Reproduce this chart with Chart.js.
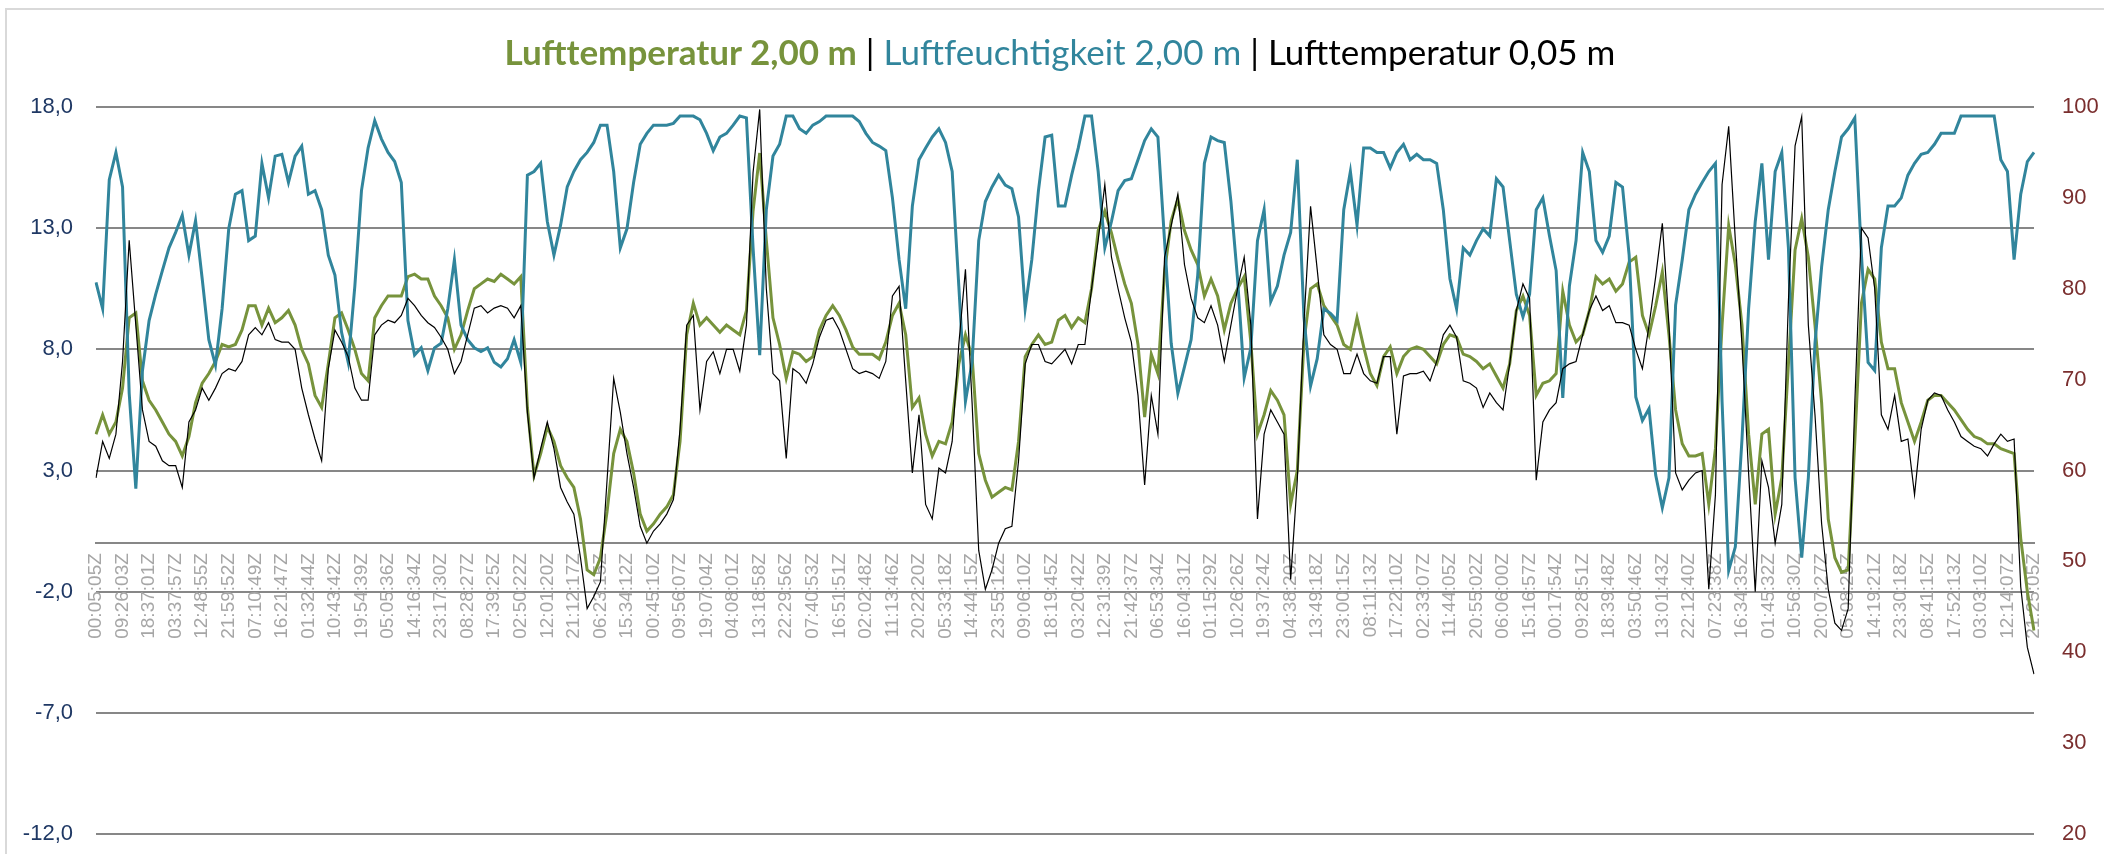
<!DOCTYPE html>
<html>
<head>
<meta charset="utf-8">
<script src="https://cdn.jsdelivr.net/npm/chart.js@4.4.1/dist/chart.umd.min.js"></script>
<style>
  html, body { margin: 0; padding: 0; background: #fff; overflow: hidden; }
  #wrap { position: relative; width: 2104px; height: 854px; }
  #frame { position: absolute; left: 5px; top: 8px; width: 2200px; height: 900px; border: 2px solid #d9d9d9; box-sizing: border-box; }
  #chart { position: absolute; left: 0; top: 0; }
  #title { position: absolute; left: 0; top: 30px; width: 2120px; text-align: center;
           font-family: Lato, sans-serif; font-size: 35px; line-height: 42px; white-space: nowrap; color: #000; }
</style>
</head>
<body>
<div id="wrap">
  <div id="frame"></div>
  <canvas id="chart" width="2104" height="854"></canvas>
  <div id="title"><span style="color:#77933C;font-weight:bold">Lufttemperatur 2,00 m</span> | <span style="color:#31859C">Luftfeuchtigkeit 2,00 m</span> | <span>Lufttemperatur 0,05 m</span></div>
</div>
<script>
// tick labels shown on the time axis (every 4th data point)
var timeLabels = [
  '00:05:05Z','09:26:03Z','18:37:01Z','03:37:57Z','12:48:55Z','21:59:52Z','07:10:49Z','16:21:47Z',
  '01:32:44Z','10:43:42Z','19:54:39Z','05:05:36Z','14:16:34Z','23:17:30Z','08:28:27Z','17:39:25Z',
  '02:50:22Z','12:01:20Z','21:12:17Z','06:23:15Z','15:34:12Z','00:45:10Z','09:56:07Z','19:07:04Z',
  '04:08:01Z','13:18:58Z','22:29:56Z','07:40:53Z','16:51:51Z','02:02:48Z','11:13:46Z','20:22:20Z',
  '05:33:18Z','14:44:15Z','23:55:12Z','09:06:10Z','18:19:45Z','03:20:42Z','12:31:39Z','21:42:37Z',
  '06:53:34Z','16:04:31Z','01:15:29Z','10:26:26Z','19:37:24Z','04:38:20Z','13:49:18Z','23:00:15Z',
  '08:11:13Z','17:22:10Z','02:33:07Z','11:44:05Z','20:55:02Z','06:06:00Z','15:16:57Z','00:17:54Z',
  '09:28:51Z','18:39:48Z','03:50:46Z','13:01:43Z','22:12:40Z','07:23:38Z','16:34:35Z','01:45:32Z',
  '10:56:30Z','20:07:27Z','05:08:25Z','14:19:21Z','23:30:18Z','08:41:15Z','17:52:13Z','03:03:10Z',
  '12:14:07Z','21:25:05Z'
];
var pointsPerLabel = 4;

// Lufttemperatur 2,00 m (°C)
var temp200 = [
  4.5, 5.3, 4.5, 5.0, 6.4, 9.3, 9.5, 6.7, 5.9, 5.5,
  5.0, 4.5, 4.2, 3.6, 4.4, 5.8, 6.6, 7.0, 7.5, 8.2,
  8.1, 8.2, 8.8, 9.8, 9.8, 9.0, 9.7, 9.1, 9.3, 9.6,
  9.0, 8.0, 7.4, 6.1, 5.6, 7.4, 9.3, 9.5, 8.8, 8.0,
  7.0, 6.7, 9.3, 9.8, 10.2, 10.2, 10.2, 11.0, 11.1, 10.9,
  10.9, 10.2, 9.8, 9.3, 8.0, 8.6, 9.6, 10.5, 10.7, 10.9,
  10.8, 11.1, 10.9, 10.7, 11.0, 5.6, 2.8, 3.7, 4.8, 4.2,
  3.2, 2.7, 2.3, 1.0, -1.1, -1.3, -0.6, 1.3, 3.7, 4.7,
  4.2, 2.9, 1.2, 0.5, 0.8, 1.2, 1.5, 2.0, 4.2, 8.6,
  9.9, 9.0, 9.3, 9.0, 8.7, 9.0, 8.8, 8.6, 9.6, 13.7,
  16.1, 12.5, 9.3, 8.2, 6.8, 7.9, 7.8, 7.5, 7.7, 8.8,
  9.4, 9.8, 9.4, 8.8, 8.1, 7.8, 7.8, 7.8, 7.6,
  8.3, 9.4, 9.9, 8.6, 5.6, 6.0, 4.5, 3.6, 4.2, 4.1,
  5.0, 7.4, 8.6, 7.7, 3.7, 2.6, 1.9, 2.1, 2.3, 2.2,
  4.2, 7.7, 8.2, 8.6, 8.2, 8.3, 9.2, 9.4, 8.9, 9.3,
  9.1, 10.5, 12.9, 13.7, 12.8, 11.7, 10.7, 9.9, 8.2, 5.2,
  7.8, 7.0, 11.2, 13.3, 14.2, 12.9, 12.1, 11.5, 10.2, 10.9,
  10.2, 8.8, 9.9, 10.5, 11.0, 8.3, 4.5, 5.3, 6.3,
  5.9, 5.3, 1.6, 3.0, 8.3, 10.5, 10.7, 9.8, 9.4, 9.0,
  8.2, 8.0, 9.3, 8.1, 7.0, 6.5, 7.7, 8.1, 7.0, 7.7,
  8.0, 8.1, 8.0, 7.7, 7.4, 8.2, 8.6, 8.5, 7.8, 7.7,
  7.5, 7.2, 7.4, 6.9, 6.4, 7.4, 9.6, 10.2, 9.4, 6.1,
  6.6, 6.7, 7.0, 10.4, 9.0, 8.3, 8.6, 9.6, 11.0, 10.7,
  10.9, 10.4, 10.7, 11.6, 11.8, 9.4, 8.6, 9.8,
  11.2, 8.6, 5.5, 4.1, 3.6, 3.6, 3.7, 1.6, 3.9, 9.0,
  13.1, 11.5, 9.0, 4.5, 1.6, 4.5, 4.7, 1.2, 2.7, 7.4,
  12.1, 13.4, 11.8, 9.0, 5.8, 1.0, -0.6, -1.2, -1.1, 4.2,
  9.9, 11.3, 10.9, 8.3, 7.2, 7.2, 5.8, 5.0, 4.2, 5.0,
  5.9, 6.1, 6.1, 5.8, 5.5, 5.1, 4.7, 4.4, 4.3, 4.1,
  4.1, 3.9, 3.8, 3.7, 0.2, -2.0, -3.6
];

// Luftfeuchtigkeit 2,00 m (%)
var humidity200 = [
  80.7, 77.8, 92, 95, 91.2, 68.5, 58, 71, 76.5, 79.4,
  82, 84.5, 86.2, 88.1, 83.7, 87.5, 81.1, 74.4, 71.6, 77.8,
  86.6, 90.4, 90.8, 85.3, 85.8, 93.8, 90, 94.6, 94.8, 91.7,
  94.6, 95.7, 90.4, 90.8, 88.7, 83.7, 81.5, 75.2, 71.9, 80.3,
  90.8, 95.5, 98.5, 96.5, 95, 94, 91.7, 76.5, 72.7, 73.5,
  71, 73.5, 74, 77.8, 83.2, 76, 74.4, 73.5, 73.1, 73.5,
  71.9, 71.4, 72.3, 74.4, 71.9, 92.5, 92.9, 93.8, 87.4, 83.7,
  87, 91.2, 92.9, 94.2, 95, 96.1, 98, 98, 92.9, 84.5,
  86.6, 91.7, 95.9, 97.1, 98, 98, 98, 98.2, 99, 99,
  99, 98.6, 97.1, 95.2, 96.7, 97.1, 98, 99, 98.8, 84.5,
  72.7, 88.7, 94.6, 95.9, 99, 99, 97.6, 97.1, 98, 98.4,
  99, 99, 99, 99, 99, 98.4, 97.1, 96.1, 95.7, 95.2,
  90, 83.2, 77.8, 89.1, 94.2, 95.5, 96.7, 97.6, 96.1, 92.9,
  80.3, 67.6, 71.9, 85.3, 89.6, 91.2, 92.5, 91.4, 91, 87.9,
  77.8, 83.2, 90.8, 96.7, 96.9, 89.1, 89.1, 92.5, 95.5, 99,
  99, 92.9, 84.5, 87.4, 90.8, 91.9, 92.1, 94.2, 96.3, 97.6,
  96.7, 85.3, 74, 68.5, 71.4, 74.4, 81.5, 93.8, 96.7, 96.3,
  96.1, 89.6, 81.1, 70.2, 73.5, 85.3, 88.7, 78.6, 80.3, 83.7,
  86.2, 94.2, 76.9, 69.3, 72.3, 77.8, 77.3, 76.5, 88.7, 92.9,
  87, 95.5, 95.5, 95, 95, 93.3, 95, 95.9, 94.2, 94.8,
  94.2, 94.2, 93.8, 88.7, 81.1, 77.8, 84.5, 83.7, 85.3, 86.6,
  85.8, 92.1, 91.2, 85.3, 79.4, 76.9, 79.4, 88.7, 90, 85.8,
  82, 68, 80.3, 85.3, 95, 92.9, 85.3, 84, 85.8, 91.7,
  91.2, 83.7, 68.1, 65.5, 66.8, 59.5, 55.9, 59.2, 78.2, 83.2,
  88.7, 90.4, 91.7, 92.9, 93.8, 67.6, 49, 51.6, 63.4, 77.8,
  87.4, 93.8, 83.2, 92.9, 95, 84.5, 59.2, 50.4, 59.2, 74,
  82.4, 88.7, 92.9, 96.7, 97.6, 98.8, 83.7, 71.9, 71, 84.5,
  89.1, 89.1, 90, 92.5, 93.8, 94.8, 95, 95.9, 97.1, 97.1,
  97.1, 99, 99, 99, 99, 99, 99, 94.2, 92.9, 83.2,
  90.4, 94, 95
];

// Lufttemperatur 0,05 m (°C)
var temp005 = [
  2.7, 4.2, 3.5, 4.5, 7.5, 12.5, 9.0, 5.5, 4.2, 4.0,
  3.4, 3.2, 3.2, 2.3, 5.0, 5.5, 6.4, 5.9, 6.4, 7.0,
  7.2, 7.1, 7.5, 8.6, 8.9, 8.6, 9.1, 8.4, 8.3, 8.3,
  8.0, 6.4, 5.3, 4.3, 3.4, 7.2, 8.8, 8.3, 7.7, 6.4,
  5.9, 5.9, 8.6, 9.0, 9.2, 9.1, 9.4, 10.1, 9.8, 9.4,
  9.1, 8.9, 8.5, 8.0, 7.0, 7.5, 8.6, 9.7, 9.8, 9.5,
  9.7, 9.8, 9.7, 9.3, 9.8, 5.4, 2.7, 3.9, 5.0, 3.9,
  2.3, 1.7, 1.2, -0.6, -2.7, -2.2, -1.6, 2.6, 6.8, 5.4,
  3.7, 2.3, 0.7, 0.0, 0.5, 0.8, 1.2, 1.8, 4.7, 9.0,
  9.4, 5.5, 7.5, 7.9, 7.0, 8.0, 8.0, 7.1, 9.0, 15.3,
  17.9, 10.5, 7.0, 6.7, 3.5, 7.2, 7.0, 6.6, 7.4, 8.5,
  9.2, 9.3, 8.8, 8.0, 7.2, 7.0, 7.1, 7.0, 6.8,
  7.5, 10.2, 10.6, 6.7, 2.9, 5.3, 1.6, 1.0, 3.1, 2.9,
  4.2, 8.2, 11.3, 5.8, -0.3, -1.9, -1.1, 0.0, 0.6, 0.7,
  3.4, 7.4, 8.2, 8.2, 7.5, 7.4, 7.7, 8.0, 7.4, 8.2,
  8.2, 10.5, 12.5, 14.8, 11.8, 10.5, 9.3, 8.3, 6.1, 2.4,
  6.1, 4.5, 11.8, 13.1, 14.4, 11.5, 10.1, 9.3, 9.1, 9.8,
  9.0, 7.5, 9.0, 10.5, 11.8, 9.0, 1.0, 4.5, 5.5,
  5.0, 4.5, -1.5, 2.6, 9.1, 13.9, 11.3, 8.6, 8.2, 8.0,
  7.0, 7.0, 7.8, 7.0, 6.7, 6.6, 7.7, 7.7, 4.5, 6.9,
  7.0, 7.0, 7.1, 6.7, 7.5, 8.6, 9.0, 8.5, 6.7, 6.6,
  6.4, 5.6, 6.2, 5.8, 5.5, 7.4, 9.6, 10.7, 10.1, 2.6,
  5.0, 5.5, 5.8, 7.2, 7.4, 7.5, 8.6, 9.6, 10.2, 9.6,
  9.8, 9.1, 9.1, 9.0, 8.0, 7.2, 9.0, 11.0,
  13.2, 9.0, 2.9, 2.2, 2.6, 2.9, 3.0, -1.9, 2.0, 14.8,
  17.2, 12.5, 8.2, 2.9, -2.0, 3.4, 2.3, 0.0, 1.6, 10.0,
  16.4, 17.6, 9.0, 5.3, 0.8, -1.9, -3.3, -3.6, -2.7, 5.8,
  13.0, 12.6, 10.5, 5.3, 4.7, 6.1, 4.2, 4.3, 2.0, 4.7,
  5.9, 6.2, 6.1, 5.5, 5.0, 4.4, 4.2, 4.0, 3.9, 3.6,
  4.1, 4.5, 4.2, 4.3, -1.8, -4.3, -5.4
];

// category labels: a time label every 4th point, blank in between
var labels = [];
for (var i = 0; i < temp200.length; i++) {
  labels.push(i % pointsPerLabel === 0 ? (timeLabels[i / pointsPerLabel] || '') : '');
}

var ctx = document.getElementById('chart').getContext('2d');

var chart = new Chart(ctx, {
  type: 'line',
  data: {
    labels: labels,
    datasets: [
      {
        label: 'Lufttemperatur 2,00 m',
        data: temp200,
        yAxisID: 'y',
        borderColor: '#77933C',
        borderWidth: 3,
        pointRadius: 0,
        tension: 0,
        order: 3
      },
      {
        label: 'Luftfeuchtigkeit 2,00 m',
        data: humidity200,
        yAxisID: 'y1',
        borderColor: '#31859C',
        borderWidth: 3,
        pointRadius: 0,
        tension: 0,
        order: 2
      },
      {
        label: 'Lufttemperatur 0,05 m',
        data: temp005,
        yAxisID: 'y',
        borderColor: '#000000',
        borderWidth: 1.2,
        pointRadius: 0,
        tension: 0,
        order: 1
      }
    ]
  },
  options: {
    responsive: false,
    animation: false,
    layout: { padding: { top: 107, bottom: 20, left: 0, right: 0 } },
    plugins: {
      legend: { display: false },
      tooltip: { enabled: false },
      title: { display: false }
    },
    scales: {
      x: {
        type: 'category',
        position: { y: 0 },
        offset: false,
        grid: { display: false, drawTicks: false },
        border: { display: true, color: '#878787', width: 2 },
        ticks: {
          autoSkip: false,
          minRotation: 90,
          maxRotation: 90,
          padding: 10,
          color: '#A6A6A6',
          font: { family: 'Liberation Sans', size: 19 }
        }
      },
      y: {
        position: 'left',
        min: -12,
        max: 18,
        afterFit: function (scale) { scale.width = 96; },
        // transparent tick marks give the gap between labels and plot
        grid: { color: '#878787', lineWidth: 2, drawTicks: true, tickLength: 23, tickColor: 'rgba(0,0,0,0)' },
        border: { display: false },
        ticks: {
          stepSize: 5,
          padding: 0,
          color: '#1F3864',
          font: { family: 'Liberation Sans', size: 22 },
          callback: function (v) { return v.toFixed(1).replace('.', ','); }
        }
      },
      y1: {
        position: 'right',
        min: 20,
        max: 100,
        afterFit: function (scale) { scale.width = 70; },
        grid: { drawOnChartArea: false, drawTicks: true, tickLength: 28, tickColor: 'rgba(0,0,0,0)' },
        border: { display: false },
        ticks: {
          stepSize: 10,
          padding: 0,
          color: '#7A2E2E',
          font: { family: 'Liberation Sans', size: 22 }
        }
      }
    }
  }
});
</script>
</body>
</html>
